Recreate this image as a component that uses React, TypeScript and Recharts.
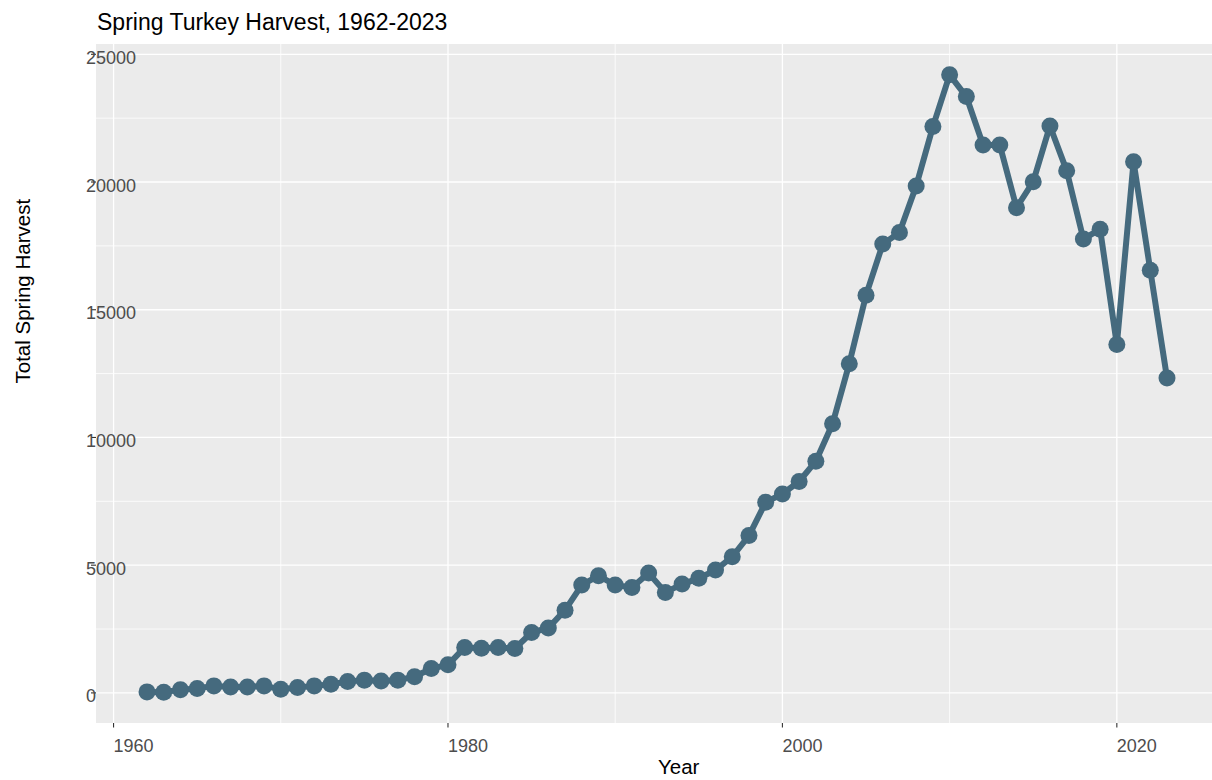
import { LineChart, Line, XAxis, YAxis, CartesianGrid } from 'recharts'

const years = [
  1962, 1963, 1964, 1965, 1966, 1967, 1968, 1969, 1970, 1971,
  1972, 1973, 1974, 1975, 1976, 1977, 1978, 1979, 1980, 1981,
  1982, 1983, 1984, 1985, 1986, 1987, 1988, 1989, 1990, 1991,
  1992, 1993, 1994, 1995, 1996, 1997, 1998, 1999, 2000, 2001,
  2002, 2003, 2004, 2005, 2006, 2007, 2008, 2009, 2010, 2011,
  2012, 2013, 2014, 2015, 2016, 2017, 2018, 2019, 2020, 2021,
  2022, 2023,
]

const harvest = [
  40, 30, 120, 170, 275, 235, 235, 275, 145, 210,
  275, 340, 445, 500, 470, 500, 630, 955, 1100, 1780,
  1750, 1780, 1740, 2365, 2540, 3240, 4220, 4590, 4220, 4130,
  4690, 3935, 4260, 4485, 4810, 5330, 6160, 7465, 7790, 8275,
  9070, 10535, 12890, 15570, 17570, 18025, 19845, 22170, 24195, 23345,
  21450, 21450, 18995, 20015, 22195, 20445, 17765, 18155, 13635, 20795,
  16550, 12325,
]

const xTicks = [1960, 1980, 2000, 2020]
const xMinor = [1970, 1990, 2010]
const yTicks = [0, 5000, 10000, 15000, 20000, 25000]
const yMinor = [2500, 7500, 12500, 17500, 22500]

const title = 'Spring Turkey Harvest, 1962-2023'
const xTitle = 'Year'
const yTitle = 'Total Spring Harvest'

const FONT = '"Liberation Sans", Arial, Helvetica, sans-serif'
const LINE = '#456A7E'

// ggplot-style 5% expansion of the data range
function expand(vals: number[]) {
  const lo = Math.min(...vals)
  const hi = Math.max(...vals)
  const pad = (hi - lo) * 0.05
  return [lo - pad, hi + pad]
}

const rows = years.map((y, i) => ({ year: y, total: harvest[i] }))

function XTick(props: any) {
  const { x, y, payload } = props
  return (
    <text x={x} y={y + 24} textAnchor="start" fill="#4D4D4D" fontSize={18} fontFamily={FONT}>
      {payload.value}
    </text>
  )
}

function YTick(props: any) {
  const { x, y, payload } = props
  return (
    <text x={x - 5} y={y + 9.5} textAnchor="start" fill="#4D4D4D" fontSize={18} fontFamily={FONT}>
      {payload.value}
    </text>
  )
}

export default function App() {
  const xDom = expand(years)
  const yDom = expand(harvest)
  return (
    <div style={{ position: 'absolute', left: 0, top: 0, width: 1212, height: 780, overflow: 'hidden', background: '#fff' }}>
      <LineChart width={1230} height={780} data={rows} margin={{ top: 44, right: 12, bottom: 0, left: 0 }}>
        <CartesianGrid
          fill="#EBEBEB"
          fillOpacity={1}
          stroke="#FFFFFF"
          strokeWidth={0.8}
          horizontalValues={yMinor}
          verticalValues={xMinor}
        />
        <CartesianGrid
          stroke="#FFFFFF"
          strokeWidth={1.3}
          horizontalValues={yTicks}
          verticalValues={xTicks}
        />
        <XAxis
          dataKey="year"
          type="number"
          domain={xDom}
          ticks={xTicks}
          allowDataOverflow
          height={57}
          axisLine={false}
          tickSize={4.5}
          tickMargin={0}
          tickLine={{ stroke: '#333333', strokeWidth: 1.1 }}
          tick={<XTick />}
          interval={0}
        />
        <YAxis
          type="number"
          domain={yDom}
          ticks={yTicks}
          allowDataOverflow
          width={96}
          axisLine={false}
          tickSize={5}
          tickMargin={0}
          tickLine={{ stroke: '#333333', strokeWidth: 1.1 }}
          tick={<YTick />}
          interval={0}
        />
        <Line
          type="linear"
          dataKey="total"
          stroke={LINE}
          strokeWidth={6}
          strokeLinejoin="round"
          dot={{ r: 8.5, fill: LINE, stroke: 'none' }}
          activeDot={false}
          isAnimationActive={false}
        />
      </LineChart>
      <svg width={1212} height={780} style={{ position: 'absolute', left: 0, top: 0, pointerEvents: 'none' }}>
        <text x={97} y={29.5} fontSize={23} fontFamily={FONT} fill="#000">{title}</text>
        <text x={658} y={774} fontSize={20.5} fontFamily={FONT} fill="#000">{xTitle}</text>
        <text x={30} y={383.5} fontSize={20.5} fontFamily={FONT} fill="#000" transform="rotate(-90 30 383.5)">
          {yTitle}
        </text>
      </svg>
    </div>
  )
}
